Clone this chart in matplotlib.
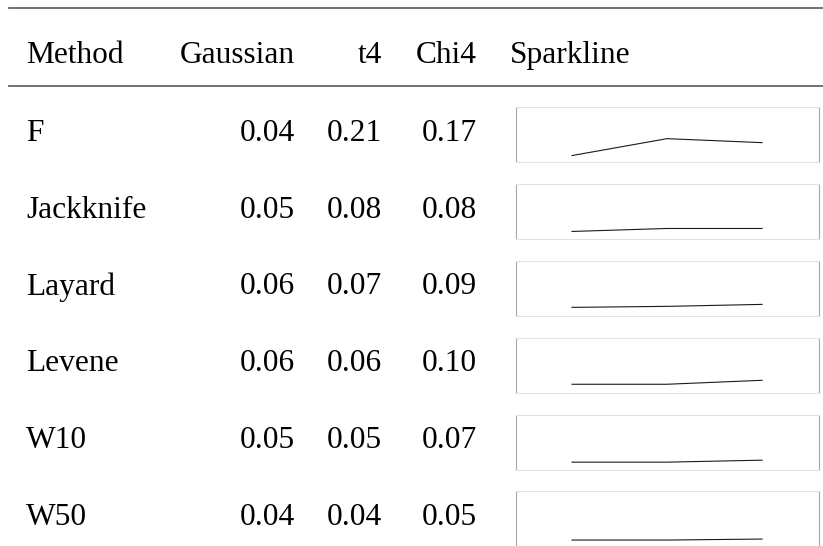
import matplotlib
matplotlib.use("Agg")
import matplotlib.pyplot as plt
from matplotlib.lines import Line2D

# table contents
methods = ["F", "Jackknife", "Layard", "Levene", "W10", "W50"]
gaussian = [0.04, 0.05, 0.06, 0.06, 0.05, 0.04]
t4 = [0.21, 0.08, 0.07, 0.06, 0.05, 0.04]
chi4 = [0.17, 0.08, 0.09, 0.10, 0.07, 0.05]
headers = ["Method", "Gaussian", "t4", "Chi4", "Sparkline"]

W, H = 823, 546
plt.rcParams['font.family'] = ['Liberation Serif', 'DejaVu Serif']

fig = plt.figure(figsize=(W / 100, H / 100), dpi=100)


def fx(px):
    return px / W


def fy(py):
    return 1 - py / H


FS = 22.6
col_method = 26
col_num = [295, 382, 477]  # right edges of number columns
col_spark = 510
header_base = 63
row_base0 = 140.7
row_step = 76.9

# rules
for y in [7.5, 86]:
    fig.add_artist(Line2D([fx(9), fx(W)], [fy(y), fy(y)], color="#666666",
                          lw=1.3, transform=fig.transFigure))

# header row
fig.text(fx(col_method), fy(header_base), headers[0], fontsize=FS, va="baseline", ha="left")
for x, h in zip(col_num, headers[1:4]):
    fig.text(fx(x), fy(header_base), h, fontsize=FS, va="baseline", ha="right")
fig.text(fx(col_spark), fy(header_base), headers[4], fontsize=FS, va="baseline", ha="left")

# body rows with a sparkline per method
for i, m in enumerate(methods):
    base = row_base0 + i * row_step
    vals = [gaussian[i], t4[i], chi4[i]]
    fig.text(fx(col_method), fy(base), m, fontsize=FS, va="baseline", ha="left")
    for x, v in zip(col_num, vals):
        fig.text(fx(x), fy(base), "%.2f" % v, fontsize=FS, va="baseline", ha="right")

    top = base - 33.8
    ax = fig.add_axes([fx(516), fy(top + 55), 303 / W, 55 / H])
    ax.plot(range(len(vals)), vals, color="#1a1a1a", lw=0.8)
    ax.set_xlim(-0.59, 2.6)
    ax.set_ylim(-0.024, 0.53)
    ax.set_xticks([])
    ax.set_yticks([])
    for side in ["top", "bottom"]:
        ax.spines[side].set_color("#e2e2e2")
        ax.spines[side].set_linewidth(0.8)
    for side in ["left", "right"]:
        ax.spines[side].set_color("#a8a8a8")
        ax.spines[side].set_linewidth(0.8)

fig.savefig("out.png", dpi=100)
